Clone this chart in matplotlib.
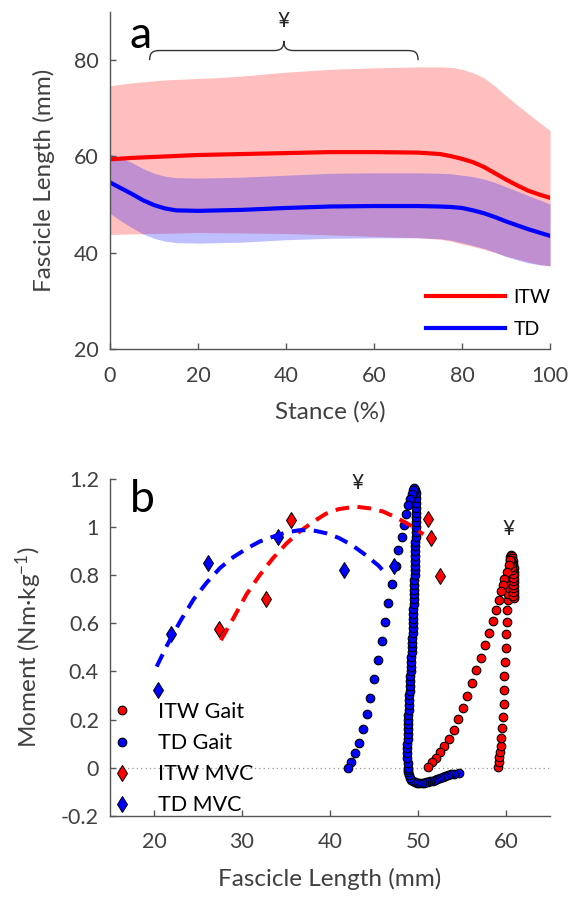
import numpy as np
import matplotlib
matplotlib.use("Agg")
import matplotlib.pyplot as plt
from matplotlib.path import Path
from matplotlib.patches import PathPatch

plt.rcParams['font.family'] = ['Lato', 'DejaVu Sans']
plt.rcParams['mathtext.default'] = 'regular'

# ---- panel a: fascicle length over stance ----
stance = [0, 2.5, 5, 7.5, 10, 12.5, 15, 20, 25, 30, 40, 50, 60, 70, 75, 77.5, 80,
          82.5, 85, 87.5, 90, 92.5, 95, 97.5, 100]
itw_mean = [59.4, 59.55, 59.7, 59.8, 59.9, 60.0, 60.1, 60.3, 60.4, 60.5, 60.7, 60.9, 60.9, 60.8,
            60.5, 60.05, 59.5, 58.8, 57.8, 56.5, 55.2, 54.0, 52.9, 52.1, 51.4]
itw_upper = [74.7, 75.0, 75.3, 75.5, 75.7, 75.9, 76.0, 76.2, 76.4, 76.7, 77.5, 78.1, 78.4, 78.6,
             78.6, 78.5, 78.1, 77.4, 76.3, 74.6, 72.6, 70.7, 68.9, 67.1, 65.4]
itw_lower = [43.8, 43.85, 43.9, 43.95, 44.0, 44.05, 44.1, 44.2, 44.15, 44.1, 44.0, 43.7, 43.4, 43.1,
             42.8, 42.4, 41.8, 41.3, 40.7, 40.0, 39.3, 38.7, 38.1, 37.6, 37.2]
td_mean = [54.6, 53.4, 52.2, 50.9, 49.9, 49.2, 48.8, 48.7, 48.8, 48.9, 49.3, 49.6, 49.7, 49.7,
           49.6, 49.5, 49.3, 48.8, 48.2, 47.4, 46.5, 45.7, 44.9, 44.2, 43.5]
td_upper = [60.5, 59.7, 58.7, 57.5, 56.5, 55.9, 55.6, 55.5, 55.6, 55.7, 56.1, 56.5, 56.6, 56.6,
            56.5, 56.4, 56.1, 55.8, 55.3, 54.6, 53.7, 52.8, 51.9, 51.0, 50.1]
td_lower = [48.2, 46.6, 45.2, 43.9, 43.0, 42.4, 42.1, 42.0, 42.1, 42.2, 42.7, 43.0, 43.1, 43.1,
            42.9, 42.6, 42.1, 41.5, 40.9, 40.1, 39.2, 38.5, 37.9, 37.5, 37.3]
brace_span = (9, 70)   # stance range marked with the yen sign

# ---- panel b: moment vs fascicle length ----
itw_gait_x = [59.07, 59.15, 59.22, 59.30, 59.37, 59.45, 59.52, 59.64, 59.75, 59.79, 59.82, 59.90,
              59.94, 60.01, 60.05, 60.13, 60.20, 60.26, 60.32, 60.37, 60.41, 60.44, 60.46, 60.48,
              60.50, 60.58, 60.66, 60.73, 60.79, 60.84, 60.87, 60.89, 60.90, 60.91, 60.92, 60.92,
              60.92, 60.91, 60.89, 60.85, 60.82, 60.80, 60.79, 60.78, 60.77, 60.76, 60.74, 60.72,
              60.69, 60.64, 60.57, 60.47, 60.28, 60.09, 59.82, 59.64, 59.45, 59.14, 58.84, 58.47,
              58.01, 57.64, 57.14, 56.62, 56.13, 55.56, 55.07, 54.54, 54.05, 53.48, 52.99, 52.54,
              52.05, 51.60, 51.14]
itw_gait_y = [0.003, 0.024, 0.044, 0.065, 0.089, 0.123, 0.165, 0.211, 0.263, 0.321, 0.381, 0.439,
              0.497, 0.554, 0.606, 0.654, 0.696, 0.720, 0.745, 0.770, 0.795, 0.820, 0.845, 0.862,
              0.875, 0.882, 0.880, 0.872, 0.860, 0.845, 0.830, 0.815, 0.800, 0.785, 0.770, 0.755,
              0.740, 0.725, 0.712, 0.705, 0.715, 0.730, 0.745, 0.760, 0.775, 0.790, 0.805, 0.820,
              0.835, 0.850, 0.858, 0.862, 0.841, 0.813, 0.786, 0.758, 0.733, 0.696, 0.654, 0.610,
              0.560, 0.509, 0.457, 0.405, 0.353, 0.299, 0.249, 0.204, 0.158, 0.120, 0.089, 0.065,
              0.040, 0.023, 0.003]

td_gait_x = [54.62, 54.10, 53.75, 53.40, 53.10, 52.80, 52.50, 52.20, 51.95, 51.70, 51.40, 51.15,
             50.90, 50.65, 50.40, 50.15, 49.90, 49.65, 49.45, 49.25, 49.10, 48.98, 48.90, 48.85,
             48.83, 48.81, 48.80, 48.79, 48.79, 48.80, 48.81, 48.83, 48.85, 48.86, 48.88, 48.90,
             48.93, 48.95, 48.98, 49.00, 49.03, 49.06, 49.09, 49.12, 49.15, 49.18, 49.21, 49.24,
             49.27, 49.30, 49.32, 49.35, 49.37, 49.40, 49.42, 49.44, 49.46, 49.48, 49.50, 49.52,
             49.54, 49.55, 49.57, 49.59, 49.60, 49.62, 49.63, 49.65, 49.67, 49.68, 49.69, 49.70,
             49.71, 49.71, 49.72, 49.73, 49.74, 49.74, 49.74, 49.74, 49.73, 49.71, 49.67,
             49.56, 49.41, 49.26, 49.07, 48.88, 48.62, 48.39, 48.13, 47.71, 47.45, 47.07, 46.62,
             46.24, 45.90, 45.41, 44.99, 44.50, 44.16, 43.71, 43.26, 42.84, 42.43, 42.05]
td_gait_y = [-0.021, -0.025, -0.028, -0.032, -0.036, -0.040, -0.044, -0.048, -0.051, -0.054, -0.057, -0.059,
             -0.061, -0.062, -0.063, -0.063, -0.062, -0.060, -0.056, -0.050, -0.042, -0.032, -0.020, -0.008,
             0.00, 0.02, 0.04, 0.06, 0.08, 0.10, 0.12, 0.14, 0.16, 0.18, 0.20, 0.22,
             0.24, 0.26, 0.28, 0.30, 0.32, 0.34, 0.36, 0.38, 0.40, 0.42, 0.44, 0.46,
             0.48, 0.50, 0.52, 0.54, 0.56, 0.58, 0.60, 0.62, 0.64, 0.66, 0.68, 0.70,
             0.72, 0.74, 0.76, 0.78, 0.80, 0.82, 0.84, 0.86, 0.88, 0.90, 0.92, 0.94,
             0.96, 0.98, 1.00, 1.02, 1.04, 1.06, 1.08, 1.10, 1.12, 1.14, 1.155,
             1.164, 1.156, 1.139, 1.118, 1.091, 1.056, 1.010, 0.959, 0.904, 0.837, 0.762, 0.686,
             0.606, 0.527, 0.446, 0.367, 0.291, 0.222, 0.161, 0.104, 0.061, 0.023, 0.0]

itw_mvc_x = [27.41, 32.73, 35.56, 51.15, 51.49, 52.50]
itw_mvc_y = [0.578, 0.703, 1.031, 1.034, 0.955, 0.795]
td_mvc_x = [20.40, 21.98, 26.09, 34.09, 41.60, 47.26]
td_mvc_y = [0.322, 0.557, 0.852, 0.959, 0.823, 0.837]

itw_fit_x = [27.6, 29.0, 30.5, 32.0, 33.5, 35.0, 36.5, 38.0, 39.5, 41.0, 42.9, 44.5, 46.0, 47.5, 49.0, 50.6]
itw_fit_y = [0.53, 0.62, 0.72, 0.80, 0.87, 0.93, 0.98, 1.02, 1.055, 1.075, 1.085, 1.078, 1.065, 1.04, 1.01, 0.97]
td_fit_x = [20.3, 21.5, 23.0, 24.5, 26.0, 27.5, 29.0, 30.5, 32.0, 33.5, 35.0, 36.5, 38.0, 39.5, 41.0, 42.5, 44.0, 45.5, 46.5]
td_fit_y = [0.42, 0.51, 0.61, 0.70, 0.77, 0.83, 0.875, 0.91, 0.94, 0.96, 0.978, 0.987, 0.987, 0.975, 0.955, 0.925, 0.885, 0.84, 0.80]

text_c = '#404040'
spine_c = '#555555'


def style_axes(ax):
    for s in ['top', 'right']:
        ax.spines[s].set_visible(False)
    for s in ['left', 'bottom']:
        ax.spines[s].set_color(spine_c)
        ax.spines[s].set_linewidth(1.0)
    ax.tick_params(direction='in', length=4, width=1, colors=spine_c,
                   labelcolor=text_c, labelsize=15.5)
    ax.tick_params(axis='x', pad=12)
    ax.tick_params(axis='y', pad=8)


fig = plt.figure(figsize=(5.73, 8.97), dpi=100)

# panel a
ax1 = fig.add_axes([0.192, 0.6109, 0.768, 0.3757])
ax1.fill_between(stance, itw_lower, itw_upper, color='red', alpha=0.25, lw=0)
ax1.plot(stance, itw_mean, color='red', lw=3, label='ITW')
ax1.fill_between(stance, td_lower, td_upper, color='blue', alpha=0.25, lw=0)
ax1.plot(stance, td_mean, color='blue', lw=3, label='TD')
ax1.set_xlim(0, 100)
ax1.set_ylim(20, 90)
ax1.set_xticks([0, 20, 40, 60, 80, 100])
ax1.set_yticks([20, 40, 60, 80])
style_axes(ax1)
ax1.set_xlabel('Stance (%)', fontsize=17.5, color=text_c)
ax1.set_ylabel('Fascicle Length (mm)', fontsize=17.5, color=text_c)
ax1.xaxis.set_label_coords(0.5, -0.155)
ax1.yaxis.set_label_coords(-0.125, 0.5)
ax1.legend(loc='upper left', bbox_to_anchor=(0.7175, 0.178), frameon=False,
           fontsize=14, handlelength=4.1, handletextpad=0.4, labelspacing=0.75,
           borderpad=0, borderaxespad=0)

# curly brace over the marked stance range
b0, b1 = brace_span
bm = (b0 + b1) / 2
verts = [(b0, 80), (b0, 81.6), (b0 + 0.7, 82), (b0 + 2.4, 82),
         (bm - 2.3, 82), (bm - 0.6, 82), (bm, 82.6), (bm, 84),
         (bm, 82.6), (bm + 0.6, 82), (bm + 2.3, 82),
         (b1 - 2.4, 82), (b1 - 0.7, 82), (b1, 81.6), (b1, 80)]
codes = [Path.MOVETO, Path.CURVE4, Path.CURVE4, Path.CURVE4,
         Path.LINETO, Path.CURVE4, Path.CURVE4, Path.CURVE4,
         Path.CURVE4, Path.CURVE4, Path.CURVE4,
         Path.LINETO, Path.CURVE4, Path.CURVE4, Path.CURVE4]
ax1.add_patch(PathPatch(Path(verts, codes), fc='none', ec='#333333', lw=1.0, clip_on=False))
ax1.text(bm, 86, '¥', ha='center', va='bottom', fontsize=15, color='#222222')
ax1.text(0.045, 0.99, 'a', transform=ax1.transAxes, fontsize=32, va='top', ha='left', color='black')

# panel b
ax2 = fig.add_axes([0.192, 0.0906, 0.768, 0.3754])
ax2.axhline(0, color='#999999', lw=0.9, ls=(0, (1, 2.5)), zorder=0)
ax2.plot(itw_gait_x, itw_gait_y, 'o', color='red', mec='black', mew=0.8, ms=6.2, label='ITW Gait')
ax2.plot(td_gait_x, td_gait_y, 'o', color='blue', mec='black', mew=0.8, ms=6.2, label='TD Gait')
ax2.plot(itw_mvc_x, itw_mvc_y, 'd', color='red', mec='black', mew=0.7, ms=8, label='ITW MVC')
ax2.plot(td_mvc_x, td_mvc_y, 'd', color='blue', mec='black', mew=0.7, ms=8, label='TD MVC')
ax2.plot(itw_fit_x, itw_fit_y, color='red', lw=2.9, dashes=(3.4, 2.1))
ax2.plot(td_fit_x, td_fit_y, color='blue', lw=2.9, dashes=(3.4, 2.1))
ax2.set_xlim(15, 65)
ax2.set_ylim(-0.2, 1.2)
ax2.set_xticks([20, 30, 40, 50, 60])
yt = [-0.2, 0, 0.2, 0.4, 0.6, 0.8, 1.0, 1.2]
ax2.set_yticks(yt)
ax2.set_yticklabels(['-0.2', '0', '0.2', '0.4', '0.6', '0.8', '1', '1.2'])
style_axes(ax2)
ax2.set_xlabel('Fascicle Length (mm)', fontsize=17.5, color=text_c)
ax2.set_ylabel('Moment (Nm·kg$^{-1}$)', fontsize=17.5, color=text_c)
ax2.xaxis.set_label_coords(0.5, -0.155)
ax2.yaxis.set_label_coords(-0.15, 0.5)
ax2.legend(loc='upper left', bbox_to_anchor=(0.003, 0.338), frameon=False,
           fontsize=15.5, handlelength=1.0, handletextpad=1.15, labelspacing=0.52,
           borderpad=0, borderaxespad=0)
ax2.text(43.1, 1.14, '¥', ha='center', va='bottom', fontsize=15, color='#222222')
ax2.text(60.3, 0.95, '¥', ha='center', va='bottom', fontsize=15, color='#222222')
ax2.text(0.045, 1.0, 'b', transform=ax2.transAxes, fontsize=32, va='top', ha='left', color='black')

fig.savefig('out.png', dpi=100)
